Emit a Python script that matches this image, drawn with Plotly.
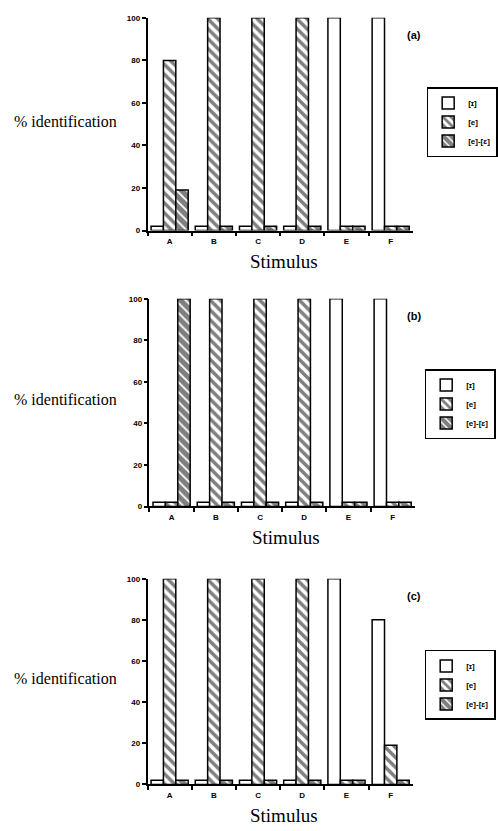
import plotly.graph_objects as go

W, H = 498, 831

stimuli = ["A", "B", "C", "D", "E", "F"]
series_names = ["[ɪ]", "[e]", "[e]-[ɛ]"]

# panel (a)
a_i = [2, 2, 2, 2, 100, 100]
a_e = [80, 100, 100, 100, 2, 2]
a_ee = [19, 2, 2, 2, 2, 2]
# panel (b)
b_i = [2, 2, 2, 2, 100, 100]
b_e = [2, 100, 100, 100, 2, 2]
b_ee = [100, 2, 2, 2, 2, 2]
# panel (c)
c_i = [2, 2, 2, 2, 100, 80]
c_e = [100, 100, 100, 100, 2, 19]
c_ee = [2, 2, 2, 2, 2, 2]

panel_labels = ["(a)", "(b)", "(c)"]
y_ticks = [0, 20, 40, 60, 80, 100]

panels = [(a_i, a_e, a_ee), (b_i, b_e, b_ee), (c_i, c_e, c_ee)]

# pixel geometry of each panel: (left, right, top, bottom)
geom = [(149, 417, 14, 229), (151, 419, 298, 508), (149, 417, 581, 789)]
legend_pos = [(431, 84), (429, 369), (429, 653)]

def px(x):
    return x / W

def py(y):
    return 1 - y / H

fig = go.Figure()

styles = [
    dict(color="white", pattern=dict(shape="")),
    dict(color="white", pattern=dict(shape="\\", fgcolor="black", bgcolor="white",
                                     size=7, solidity=0.5)),
    dict(color="white", pattern=dict(shape="\\", fgcolor="black", bgcolor="white",
                                     size=7, solidity=0.75)),
]

for p, vals in enumerate(panels):
    xa = "x" if p == 0 else f"x{p+1}"
    ya = "y" if p == 0 else f"y{p+1}"
    lg = "legend" if p == 0 else f"legend{p+1}"
    for s, v in enumerate(vals):
        fig.add_trace(go.Bar(
            x=stimuli, y=v, name=series_names[s],
            xaxis=xa, yaxis=ya, legend=lg,
            marker=dict(color=styles[s]["color"], pattern=styles[s]["pattern"],
                        line=dict(color="black", width=1.5)),
        ))

layout = dict(
    width=W, height=H,
    margin=dict(l=0, r=0, t=0, b=0),
    paper_bgcolor="white", plot_bgcolor="white",
    barmode="group", bargap=0.16, bargroupgap=0,
    showlegend=True,
)

tickfont = dict(family="Liberation Sans", size=8, color="black", weight="bold")
annotations = []
for p in range(3):
    l, r, t, b = geom[p]
    xk = "xaxis" if p == 0 else f"xaxis{p+1}"
    yk = "yaxis" if p == 0 else f"yaxis{p+1}"
    ya = "y" if p == 0 else f"y{p+1}"
    xa = "x" if p == 0 else f"x{p+1}"
    layout[xk] = dict(
        domain=[px(l), px(r)], anchor=ya, type="category",
        categoryorder="array", categoryarray=stimuli,
        showline=True, linecolor="black", linewidth=1.5,
        ticks="outside", ticklen=4, tickwidth=1.5, tickcolor="black",
        tickson="boundaries", showgrid=False, zeroline=False,
        tickfont=tickfont, ticklabelstandoff=2,
        range=[-0.5, 5.5],
    )
    layout[yk] = dict(
        domain=[py(b), py(t)], anchor=xa, range=[0, 100],
        tickvals=y_ticks, showline=True, linecolor="black", linewidth=1.5,
        ticks="outside", ticklen=4, tickwidth=1.5, tickcolor="black",
        showgrid=False, zeroline=False, tickfont=tickfont,
    )
    lk = "legend" if p == 0 else f"legend{p+1}"
    lx, ly = legend_pos[p]
    layout[lk] = dict(
        x=px(lx), y=py(ly), xanchor="left", yanchor="top",
        bordercolor="black", borderwidth=1.5, bgcolor="white",
        font=dict(family="Liberation Sans", size=8, color="black", weight="bold"),
        itemwidth=30, tracegroupgap=0,
    )
    annotations.append(dict(
        text="% identification", xref="paper", yref="paper",
        x=px(12), y=py((t + b) / 2 - 3), xanchor="left", yanchor="middle",
        showarrow=False, font=dict(family="Liberation Serif", size=16, color="black"),
    ))
    annotations.append(dict(
        text="Stimulus", xref="paper", yref="paper",
        x=px((l + r) / 2 + 4), y=py(b + 31), xanchor="center", yanchor="middle",
        showarrow=False, font=dict(family="Liberation Serif", size=19, color="black"),
    ))
    annotations.append(dict(
        text=panel_labels[p], xref="paper", yref="paper",
        x=px(418), y=py(t + 17), xanchor="center", yanchor="middle",
        showarrow=False, font=dict(family="Liberation Sans", size=11, color="black",
                                   weight="bold"),
    ))

layout["annotations"] = annotations
fig.update_layout(**layout)
fig.write_html("out.html")
